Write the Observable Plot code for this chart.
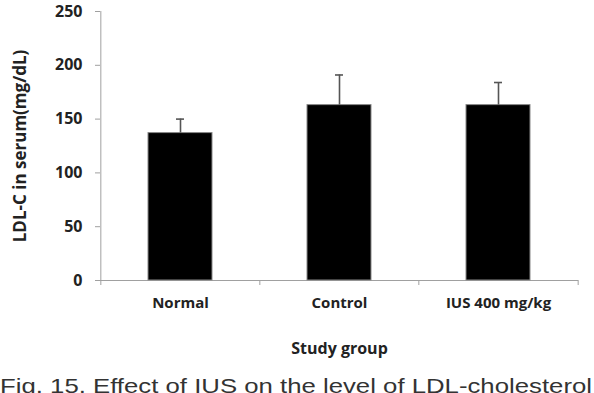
<!DOCTYPE html>
<html><head><meta charset="utf-8">
<script src="https://cdn.jsdelivr.net/npm/d3@7"></script>
<script src="https://cdn.jsdelivr.net/npm/@observablehq/plot@0.6"></script>
<style>
html,body{margin:0;padding:0;background:#fff;width:594px;height:393px;overflow:hidden;position:relative}
#cap{position:absolute;left:0;top:375px;font-family:"Liberation Sans Narrow","Liberation Sans",sans-serif;font-size:21px;line-height:21px;color:#333;white-space:nowrap;transform-origin:0 0}
</style></head><body>
<div id="chart"></div>
<div id="cap">Fig. 15. Effect of IUS on the level of LDL-cholesterol</div>
<script>
const groups = ["Normal", "Control", "IUS 400 mg/kg"];
const means = [137, 163, 163];
const sds = [13, 28, 21];
const yTicks = [0, 50, 100, 150, 200, 250];
const yLabel = "LDL-C in serum(mg/dL)";
const xLabel = "Study group";

const data = groups.map((g, i) => ({group: g, mean: means[i], sd: sds[i]}));

const W = 594, H = 370, mL = 100, mR = 16, mT = 11, mB = 90;
const step = (W - mL - mR) / groups.length;
const axisColor = "#a0a0a0";
const font = "'Open Sans', sans-serif";

const chart = Plot.plot({
  width: W, height: H,
  marginLeft: mL, marginRight: mR, marginTop: mT, marginBottom: mB,
  style: {fontFamily: font, fontSize: "15px", color: "#222", background: "#fff"},
  x: {type: "band", domain: groups, paddingInner: 0.6, paddingOuter: 0.3, axis: null},
  y: {domain: [0, 250], axis: null},
  marks: [
    Plot.ruleX([groups[0]], {x: d => d, dx: -step / 2, y1: 0, y2: 250, stroke: axisColor}),
    Plot.ruleY([0], {stroke: axisColor}),
    Plot.ruleX(groups, {x: d => d, dx: -step / 2, y1: 0, y2: 0, insetBottom: -5, stroke: axisColor}),
    Plot.ruleX([groups[groups.length - 1]], {x: d => d, dx: step / 2, y1: 0, y2: 0, insetBottom: -5, stroke: axisColor}),
    Plot.barY(data, {x: "group", y: "mean", fill: "#000", stroke: "#888", strokeWidth: 1}),
    Plot.ruleX(data, {x: "group", y1: "mean", y2: d => d.mean + d.sd, stroke: "#555", strokeWidth: 1.6}),
    Plot.tickY(data, {x: "group", y: d => d.mean + d.sd, stroke: "#555", strokeWidth: 1.6, insetLeft: 28, insetRight: 28}),
    Plot.axisY({ticks: yTicks, tickSize: 5, tickPadding: 13, stroke: axisColor, fill: "#222", fontWeight: "bold", fontSize: 16, label: null}),
    Plot.axisX({tickSize: 0, tickPadding: 17, fill: "#222", fontWeight: "bold", fontSize: 15, label: null}),
    Plot.text([yLabel], {frameAnchor: "left", textAnchor: "middle", rotate: -90, dx: -80, fill: "#222", fontWeight: "bold", fontSize: 17}),
    Plot.text([xLabel], {frameAnchor: "bottom", dy: 73, fill: "#222", fontWeight: "bold", fontSize: 16})
  ]
});
document.getElementById("chart").appendChild(chart);
const cap = document.getElementById("cap");
const w = cap.getBoundingClientRect().width;
cap.style.transform = `scaleX(${592 / w})`;
</script>
</body></html>
